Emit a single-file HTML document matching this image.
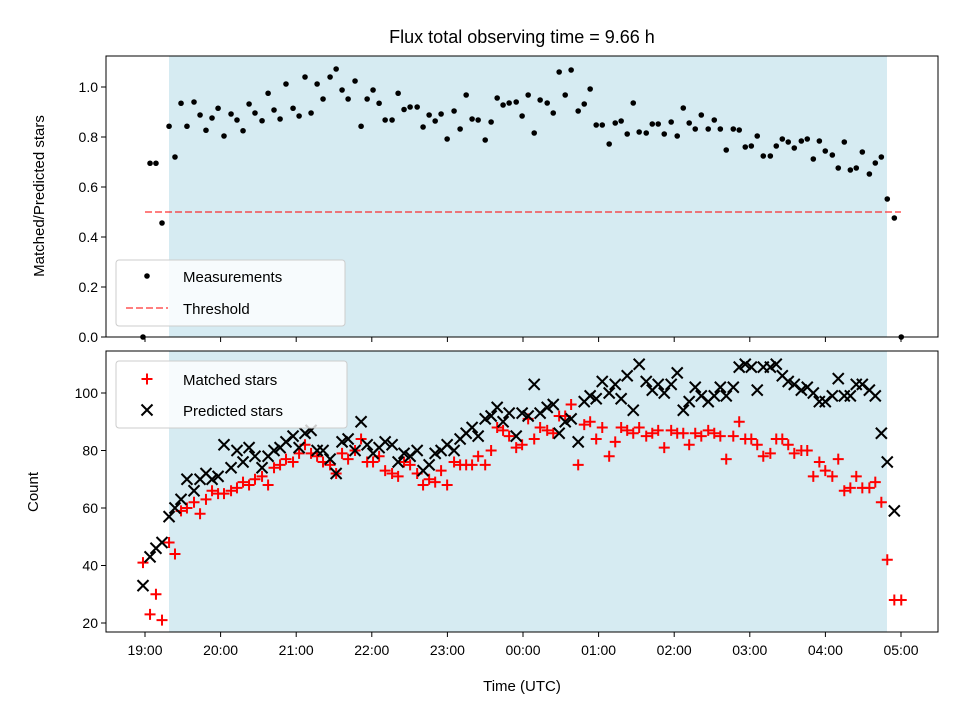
<!DOCTYPE html>
<html><head><meta charset="utf-8"><style>
html,body{margin:0;padding:0;background:#fff}
svg{display:block;font-family:"Liberation Sans","DejaVu Sans",sans-serif}
</style></head><body>
<svg id="chart" width="960" height="720" viewBox="0 0 960 720">
<text x="522" y="43" font-size="18" text-anchor="middle">Flux total observing time = 9.66 h</text>
<g id="topPanel"></g>
<g id="botPanel"></g>
<text x="44" y="196" font-size="15" text-anchor="middle" transform="rotate(-90 44 196)">Matched/Predicted stars</text>
<text x="38" y="492" font-size="15" text-anchor="middle" transform="rotate(-90 38 492)">Count</text>
<text x="522" y="691" font-size="15" text-anchor="middle">Time (UTC)</text>
<g>
<rect x="116" y="260" width="229" height="66" rx="3" fill="#fff" fill-opacity="0.8" stroke="#ccc"/>
<circle cx="147" cy="276" r="2.8" fill="#000"/>
<text x="183" y="282" font-size="15">Measurements</text>
<line x1="126" x2="168" y1="308" y2="308" stroke="#ff0000" stroke-opacity="0.5" stroke-width="2" stroke-dasharray="7,3"/>
<text x="183" y="314" font-size="15">Threshold</text>
</g>
<g>
<rect x="116" y="361" width="231" height="67" rx="3" fill="#fff" fill-opacity="0.8" stroke="#ccc"/>
<path d="M141.5,379H152.5M147,373.5V384.5" stroke="#ff0000" stroke-width="2"/>
<text x="183" y="385" font-size="15">Matched stars</text>
<path d="M141.5,404.5L152.5,415.5M141.5,415.5L152.5,404.5" stroke="#000" stroke-width="2"/>
<text x="183" y="416" font-size="15">Predicted stars</text>
</g>
</svg>
<script>
const times=[-1.6,4.0,8.7,13.5,19.1,23.8,28.6,33.3,38.9,43.7,48.4,53.2,58.0,62.7,68.3,73.0,77.8,82.6,87.3,92.9,97.7,102.4,107.2,111.9,117.5,122.3,127.0,131.8,136.6,141.3,146.9,151.7,156.4,161.2,166.7,171.5,176.3,181.0,185.8,190.6,196.1,200.9,205.6,210.4,216.0,220.7,225.5,230.3,235.0,239.8,245.3,250.1,254.9,259.6,264.4,270.0,274.7,279.5,284.2,289.0,294.6,299.3,304.1,308.9,313.6,319.2,324.0,328.7,333.5,338.2,343.8,348.6,353.3,358.1,362.9,368.4,373.2,377.9,382.7,387.5,392.2,397.8,402.6,407.3,412.1,417.6,422.4,427.2,431.9,436.7,441.5,447.0,451.8,456.6,461.3,466.9,471.6,476.4,481.2,485.9,490.7,496.3,501.0,505.8,510.5,515.3,520.9,525.6,530.4,535.2,539.9,545.5,550.2,555.0,559.8,564.5,569.3,574.9,579.6,584.4,589.1,594.7,600.2];
const ratio=[0,0.695,0.695,0.456,0.843,0.72,0.935,0.843,0.94,0.888,0.827,0.876,0.915,0.804,0.892,0.868,0.825,0.932,0.896,0.865,0.975,0.908,0.872,1.012,0.915,0.884,1.04,0.896,1.012,0.952,1.04,1.072,0.988,0.952,1.024,0.843,0.952,0.988,0.935,0.868,0.868,0.975,0.91,0.92,0.92,0.84,0.888,0.864,0.892,0.792,0.904,0.832,0.968,0.872,0.868,0.788,0.86,0.956,0.928,0.936,0.94,0.884,0.968,0.816,0.948,0.936,0.896,1.06,0.968,1.068,0.904,0.932,0.992,0.848,0.848,0.772,0.856,0.864,0.812,0.936,0.82,0.816,0.852,0.852,0.812,0.86,0.804,0.916,0.856,0.832,0.888,0.832,0.868,0.832,0.748,0.832,0.828,0.76,0.764,0.804,0.724,0.724,0.764,0.792,0.78,0.756,0.784,0.792,0.712,0.784,0.744,0.728,0.676,0.78,0.668,0.676,0.74,0.652,0.696,0.72,0.552,0.476,0];
const matched=[41,23,30,21,48,44,59,60,62,58,63,66,65,65,66,67,69,68,70,71,68,74,75,77,76,79,82,79,78,76,75,72,79,77,80,84,76,76,78,73,72,71,76,75,72,68,70,69,73,68,76,75,75,75,78,75,80,88,87,85,81,82,91,84,88,87,86,92,92,96,75,89,90,84,88,78,83,88,87,86,88,85,86,87,81,87,86,86,82,86,85,87,86,85,77,85,90,84,84,82,78,79,84,84,82,79,80,80,71,76,73,71,77,66,67,71,67,67,69,62,42,28,28];
const predicted=[33,43,46,48,57,60,63,70,66,70,72,70,71,82,74,80,76,81,78,74,78,80,81,83,85,81,86,87,80,80,77,72,83,84,80,90,82,79,81,83,82,76,79,78,80,73,75,79,80,82,80,84,86,88,85,91,92,95,90,93,85,93,92,103,93,95,96,86,90,91,83,97,99,98,104,100,103,98,106,94,110,104,101,103,100,103,107,94,97,102,99,97,99,102,99,102,109,110,109,101,109,109,110,106,104,103,101,102,100,97,97,99,105,99,99,103,103,101,99,86,76,59,null];
const hourLabels=["19:00","20:00","21:00","22:00","23:00","00:00","01:00","02:00","03:00","04:00","05:00"];
const ratioTicks=[0.0,0.2,0.4,0.6,0.8,1.0];
const countTicks=[20,40,60,80,100];
const threshold=0.5;

(function(){
const NS="http://www.w3.org/2000/svg";
function mk(parent,tag,attrs,before){const e=document.createElementNS(NS,tag);for(const k in attrs)e.setAttribute(k,attrs[k]);parent.appendChild(e);return e;}
const L=106,R=938;
const xS=m=>145+m/60*75.6;
const yTop=v=>337-v*250;
const yBot=v=>623-(v-20)*2.875;
const topG=document.getElementById('topPanel'),botG=document.getElementById('botPanel');

function panel(g,y0,y1){
  const bg=mk(g,'rect',{x:169,y:y0,width:718,height:y1-y0,fill:'#add8e6','fill-opacity':0.5});
  
  
}
panel(topG,56,337);panel(botG,351,632);

const th=mk(topG,'line',{x1:145,x2:901,y1:yTop(threshold),y2:yTop(threshold),stroke:'#ff0000','stroke-opacity':0.5,'stroke-width':2,'stroke-dasharray':'7,3'});



times.forEach((t,i)=>{
  if(ratio[i]==null)return;
  const c=mk(topG,'circle',{cx:xS(t),cy:yTop(ratio[i]),r:2.8,fill:'#000'});
  
  
});
times.forEach((t,i)=>{
  const x=xS(t);
  if(matched[i]!=null){
    const y=yBot(matched[i]);
    const p=mk(botG,'path',{d:`M${x-5.5},${y}H${x+5.5}M${x},${y-5.5}V${y+5.5}`,stroke:'#ff0000','stroke-width':2});
    
    
  }
});
times.forEach((t,i)=>{
  const x=xS(t);
  if(predicted[i]!=null){
    const y=yBot(predicted[i]);
    const p=mk(botG,'path',{d:`M${x-5.5},${y-5.5}L${x+5.5},${y+5.5}M${x-5.5},${y+5.5}L${x+5.5},${y-5.5}`,stroke:'#000','stroke-width':2});
    
    
  }
});

function frame(g,y0,y1){
  const f=mk(g,'rect',{x:L,y:y0,width:R-L,height:y1-y0,fill:'none',stroke:'#000','stroke-width':1});
  
  
  hourLabels.forEach((h,i)=>{
    const x=xS(i*60);
    const tk=mk(g,'line',{x1:x,x2:x,y1:y1,y2:y1+5,stroke:'#000'});
    
    
  });
}
frame(topG,56,337);frame(botG,351,632);
hourLabels.forEach((h,i)=>{
  const t=mk(botG,'text',{x:xS(i*60),y:655,'font-size':14,'text-anchor':'middle'});
  t.textContent=h;
  
  
});
ratioTicks.forEach(v=>{
  const y=yTop(v);
  mk(topG,'line',{x1:L-5,x2:L,y1:y,y2:y,stroke:'#000'});
  const t=mk(topG,'text',{x:L-8,y:y+5,'font-size':14,'text-anchor':'end'});
  t.textContent=v.toFixed(1);
  
  
});
countTicks.forEach(v=>{
  const y=yBot(v);
  mk(botG,'line',{x1:L-5,x2:L,y1:y,y2:y,stroke:'#000'});
  const t=mk(botG,'text',{x:L-8,y:y+5,'font-size':14,'text-anchor':'end'});
  t.textContent=v;
  
  
});
})();
</script>
</body></html>
